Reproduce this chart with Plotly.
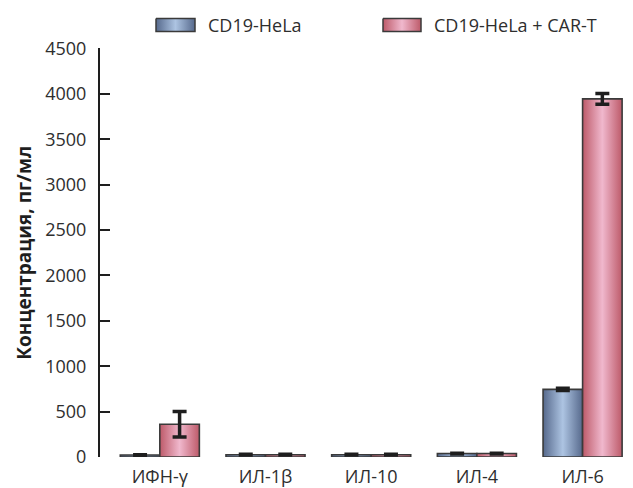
import plotly.graph_objects as go

categories = ["ИФН-γ", "ИЛ-1β", "ИЛ-10", "ИЛ-4", "ИЛ-6"]
series_names = ["CD19-HeLa", "CD19-HeLa + CAR-T"]
hela_values = [22, 25, 25, 38, 745]
hela_errors = [4, 4, 4, 4, 12]
cart_values = [360, 25, 25, 38, 3945]
cart_errors = [140, 4, 4, 4, 60]
y_ticks = [0, 500, 1000, 1500, 2000, 2500, 3000, 3500, 4000, 4500]

FONT = "Open Sans"
BAR_W = 0.374
blue_scale = [[0, "#56698c"], [0.5, "#adc4e2"], [1, "#56698c"]]
red_scale = [[0, "#bd5a69"], [0.5, "#f0b8cd"], [1, "#bd5a69"]]
OUTLINE = "#3a3a3a"
TEXT = "#2e2e2e"

fig = go.Figure()

series = [
    (hela_values, hela_errors, blue_scale, -1),
    (cart_values, cart_errors, red_scale, 0),
]
for vals, errs, scale, side in series:
    for i, v in enumerate(vals):
        x0 = i + side * BAR_W
        x1 = x0 + BAR_W
        fig.add_trace(go.Scatter(
            x=[x0, x0, x1, x1, x0], y=[0, v, v, 0, 0],
            mode="lines", fill="toself",
            fillgradient=dict(type="horizontal", colorscale=scale),
            line=dict(color=OUTLINE, width=1.6),
            showlegend=False, hoverinfo="skip",
        ))
    centers = [i + side * BAR_W + BAR_W / 2 for i in range(len(vals))]
    fig.add_trace(go.Scatter(
        x=centers, y=vals, mode="markers",
        marker=dict(size=1, opacity=0),
        error_y=dict(type="data", array=errs, visible=True,
                     color="#1e1e1e", thickness=3.5, width=7),
        showlegend=False, hoverinfo="skip",
    ))

# custom legend (overlay axes in pixel units)
legend_items = [(156, 195, series_names[0], blue_scale), (383, 421, series_names[1], red_scale)]
for x0, x1, name, scale in legend_items:
    fig.add_trace(go.Scatter(
        x=[x0, x0, x1, x1, x0], y=[18.5, 31.5, 31.5, 18.5, 18.5],
        xaxis="x2", yaxis="y2",
        mode="lines", fill="toself",
        fillgradient=dict(type="horizontal", colorscale=scale),
        line=dict(color=OUTLINE, width=1.5),
        showlegend=False, hoverinfo="skip",
    ))
    fig.add_annotation(x=x1 + 11, y=25, xref="x2", yref="y2", text=name,
                       showarrow=False, xanchor="left", yanchor="middle",
                       font=dict(family=FONT, size=18, color=TEXT))

fig.update_layout(
    width=633, height=488,
    margin=dict(l=100, r=0, t=0, b=31, autoexpand=False),
    plot_bgcolor="white", paper_bgcolor="white",
    font=dict(family=FONT, color=TEXT),
    showlegend=False,
    xaxis=dict(
        domain=[0, 1],
        range=[-0.566, 4.477],
        tickmode="array", tickvals=list(range(len(categories))), ticktext=categories,
        showline=False, showgrid=False, zeroline=False, ticks="",
        tickfont=dict(family=FONT, size=18, color=TEXT),
        ticklabelstandoff=7,
        automargin=False,
    ),
    yaxis=dict(
        domain=[0, 0.8939],
        range=[0, 4500],
        tickmode="array", tickvals=y_ticks,
        showline=True, linecolor="#1e1e1e", linewidth=2,
        ticks="inside", ticklen=10, tickwidth=2, tickcolor="#1e1e1e",
        showgrid=False, zeroline=False,
        tickfont=dict(family=FONT, size=18, color=TEXT),
        ticklabelstandoff=8,
        automargin=False,
        title=dict(text="<b>Концентрация, пг/мл</b>",
                   font=dict(family=FONT, size=19, color="#1e1e1e"), standoff=9),
    ),
    xaxis2=dict(domain=[0, 1], range=[100, 633], visible=False, overlaying="x",
                anchor="y2", fixedrange=True),
    yaxis2=dict(domain=[0.9, 1], range=[45.7, 0], visible=False, anchor="x2",
                fixedrange=True),
)

fig.write_html("out.html", config={"displayModeBar": False},
               post_script="document.body.style.margin='0px';")
